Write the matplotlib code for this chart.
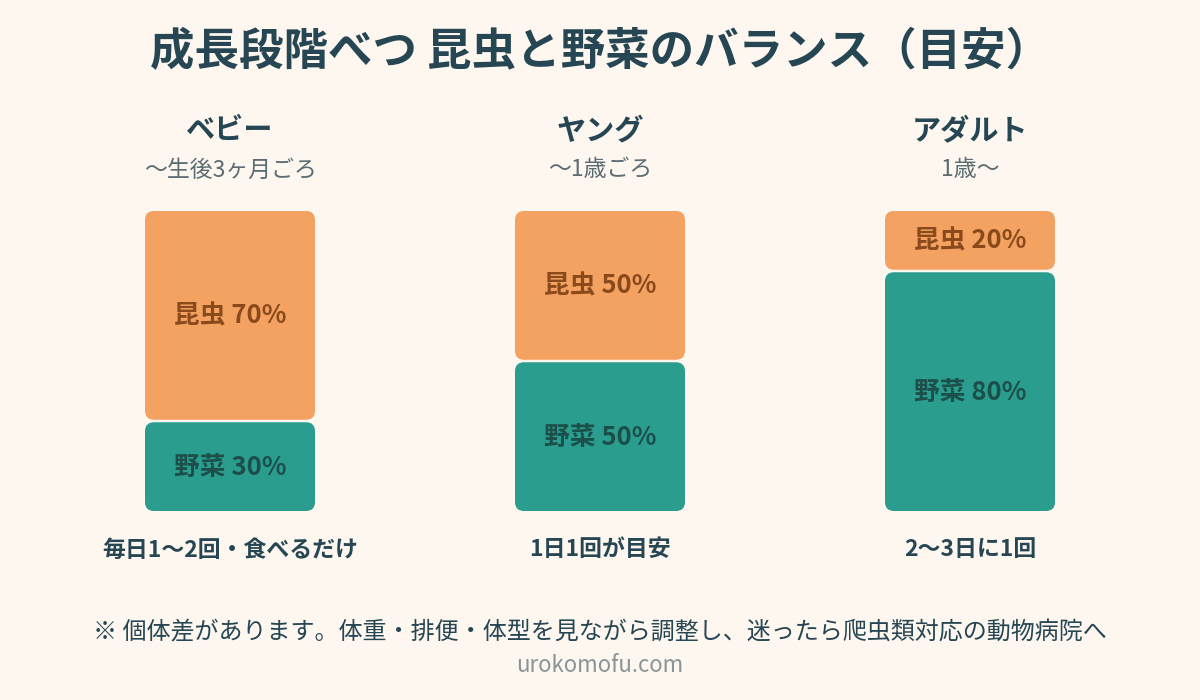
import matplotlib
matplotlib.use("Agg")
import matplotlib.pyplot as plt
from matplotlib.patches import FancyBboxPatch

plt.rcParams['font.family'] = ['Noto Sans CJK JP', 'DejaVu Sans']

# data
stages = ["ベビー", "ヤング", "アダルト"]
ages = ["〜生後3ヶ月ごろ", "〜1歳ごろ", "1歳〜"]
insect_pct = [70, 50, 20]
veggie_pct = [30, 50, 80]
feeding = ["毎日1〜2回・食べるだけ", "1日1回が目安", "2〜3日に1回"]

BG = "#FDF7F0"
DARK = "#264653"
ORANGE = "#F4A261"
TEAL = "#2A9D8F"
ORANGE_TXT = "#8A4A1C"
TEAL_TXT = "#1C4F4A"

fig = plt.figure(figsize=(12, 7), dpi=100, facecolor=BG)
ax = fig.add_axes([0, 0, 1, 1])
ax.set_xlim(0, 1200)
ax.set_ylim(700, 0)
ax.axis("off")
ax.set_facecolor(BG)

ax.text(600, 52, "成長段階べつ 昆虫と野菜のバランス（目安）", ha="center", va="center",
        fontsize=32, fontweight="bold", color=DARK)

centers = [230, 600, 970]
bar_w = 170
top = 211
scale = 3.0  # px per percent
gap = 2.5

for cx, st, ag, ins, veg, fd in zip(centers, stages, ages, insect_pct, veggie_pct, feeding):
    ax.text(cx, 130, st, ha="center", va="center", fontsize=21, fontweight="bold", color=DARK)
    ax.text(cx, 170, ag, ha="center", va="center", fontsize=16.5, color="#5B6C73")

    h_ins = ins * scale
    h_veg = veg * scale
    x0 = cx - bar_w / 2
    # insect segment (top)
    p1 = FancyBboxPatch((x0, top), bar_w, h_ins - gap / 2,
                        boxstyle="round,pad=0,rounding_size=9",
                        fc=ORANGE, ec="none")
    ax.add_patch(p1)
    ax.text(cx, top + h_ins / 2, f"昆虫 {ins}%", ha="center", va="center",
            fontsize=18.5, fontweight="bold", color=ORANGE_TXT)
    # veggie segment (bottom)
    y2 = top + h_ins + gap / 2
    p2 = FancyBboxPatch((x0, y2), bar_w, h_veg - gap / 2,
                        boxstyle="round,pad=0,rounding_size=9",
                        fc=TEAL, ec="none")
    ax.add_patch(p2)
    ax.text(cx, y2 + h_veg / 2, f"野菜 {veg}%", ha="center", va="center",
            fontsize=18.5, fontweight="bold", color=TEAL_TXT)

    ax.text(cx, 550, fd, ha="center", va="center", fontsize=16.5, fontweight="bold", color=DARK)

ax.text(600, 632, "※ 個体差があります。体重・排便・体型を見ながら調整し、迷ったら爬虫類対応の動物病院へ",
        ha="center", va="center", fontsize=17.3, color=DARK)
ax.text(600, 665, "urokomofu.com", ha="center", va="center", fontsize=16, color="#8A9497")

fig.savefig("out.png", dpi=100, facecolor=BG)
